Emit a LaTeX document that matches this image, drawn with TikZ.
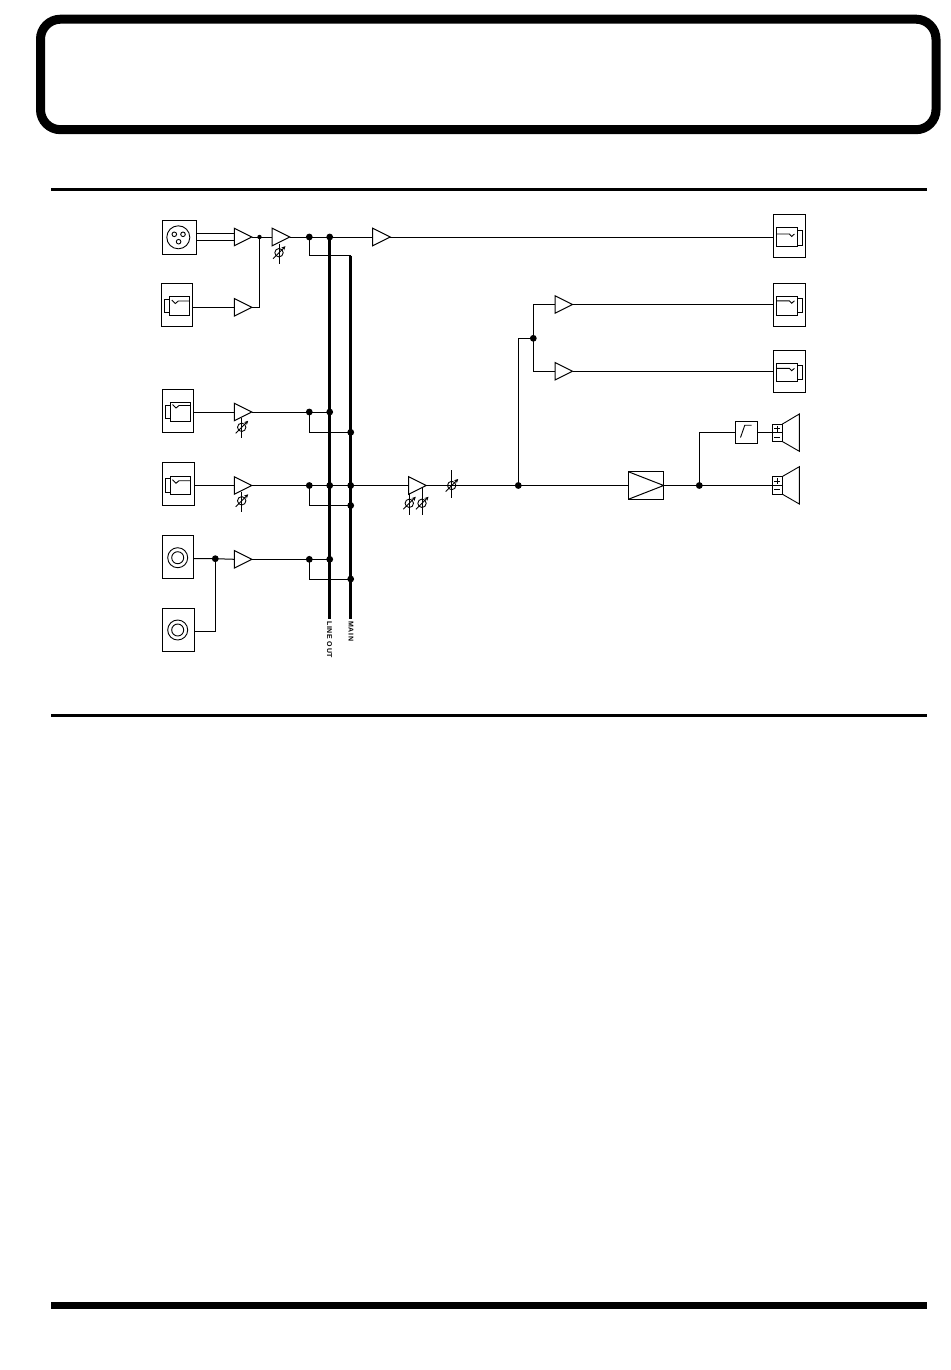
\documentclass[tikz,border=0pt]{standalone}
\usepackage{fontspec}
\setmainfont{Liberation Sans}
\usetikzlibrary{shapes.geometric,arrows.meta}
\tikzset{
  x=1pt,y=-1pt,
  wire/.style={line width=1pt,black},
  thin part/.style={line width=0.9pt,black},
  bus/.style={line width=2.5pt,black},
  rule/.style={line width=3pt,black},
  unit/.style={draw,line width=1pt,rectangle,inner sep=0pt,outer sep=0pt},
  ampl/.style={draw,line width=1pt,isosceles triangle,isosceles triangle stretches,
    minimum height=17.5pt,minimum width=17.5pt,inner sep=0pt,outer sep=0pt,anchor=west},
  dot/.style={circle,fill=black,inner sep=0pt,minimum size=6.8pt},
  smalldot/.style={circle,fill=black,inner sep=0pt,minimum size=4.4pt},
  buslabel/.style={font=\bfseries\fontsize{7}{8}\selectfont\addfontfeature{LetterSpace=10},rotate=-90,anchor=west,inner sep=0pt},
}
% box from its corners: name, x1, y1, x2, y2
\newcommand{\unitbox}[5]{%
  \pgfmathsetmacro{\ubw}{#4-#2}\pgfmathsetmacro{\ubh}{#5-#3}%
  \pgfmathsetmacro{\ubx}{(#4+#2)/2}\pgfmathsetmacro{\uby}{(#5+#3)/2}%
  \node[unit,minimum width=\ubw pt,minimum height=\ubh pt] (#1) at (\ubx,\uby) {};}
% jack with sleeve to the left: body x1, y1, x2, y2, sleeve x, sleeve y1, y2, contact y
\newcommand{\jackleft}[8]{%
  \draw[thin part] (#1,#2) rectangle (#3,#4);
  \draw[thin part] (#1,#6) -- (#5,#6) -- (#5,#7) -- (#1,#7);
  \draw[thin part] (#1+2.5,#8-2) -- (#1+6,#8+1.5) -- (#1+9,#8-1) -- (#3,#8-1);}
% jack with sleeve to the right
\newcommand{\jackright}[8]{%
  \draw[thin part] (#1,#2) rectangle (#3,#4);
  \draw[thin part] (#3,#6) -- (#5,#6) -- (#5,#7) -- (#3,#7);
  \draw[thin part] (#1,#8) -- (#3-8.3,#8) -- (#3-6,#8+2.5) -- (#3-3.3,#8);}
% level control: centre x, y, stem top, stem bottom
\newcommand{\potmark}[4]{%
  \draw[thin part] (#1,#3) -- (#1,#4);
  \draw[thin part] (#1,#2) circle (4.2);
  \draw[thin part,-{Stealth[length=4pt,width=4pt]}] (#1-6,#2+6) -- (#1+6.5,#2-6.5);}
% speaker: x1, y1, x2, y2, cone x, cone y1, y2
\newcommand{\speakermark}[7]{%
  \draw[thin part] (#1,#2) rectangle (#3,#4);
  \draw[thin part] (#3,#2) -- (#5,#6) -- (#5,#7) -- (#3,#4);
  \pgfmathsetmacro{\spm}{(#2+#4)/2}\pgfmathsetmacro{\spx}{(#1+#3)/2}%
  \draw[line width=0.7pt] (#1,\spm) -- (#3,\spm);
  \draw[line width=0.7pt] (\spx-3,\spm-4.2) -- (\spx+3,\spm-4.2) (\spx,\spm-7.2) -- (\spx,\spm-1.2);
  \draw[line width=0.7pt] (\spx-3,\spm+4.2) -- (\spx+3,\spm+4.2);}
\begin{document}
\begin{tikzpicture}
\useasboundingbox (0,0) rectangle (950,1370);
\fill[white] (0,0) rectangle (950,1370);

% page furniture
\draw[line width=9pt,rounded corners=20pt] (40.5,19.2) rectangle (936,129.7);
\draw[rule] (51,189.3) -- (927,189.3);
\draw[rule] (51,715.5) -- (927,715.5);
\draw[line width=7pt] (51,1305.5) -- (927,1305.5);

% input boxes
\unitbox{xlr}{162.3}{220}{196.7}{254.3}
\unitbox{jackA}{161.3}{283.3}{192.7}{326.3}
\unitbox{jackB}{162.3}{389.3}{193.7}{432.3}
\unitbox{jackC}{162.3}{462.3}{194.7}{505.3}
\unitbox{rcaA}{162.3}{535.3}{193.7}{578.3}
\unitbox{rcaB}{162.3}{608.3}{194.7}{651.3}

% input symbols
\draw[thin part] (178.3,237.3) circle (11.5);
\draw[thin part] (174.3,234.3) circle (2.3) (183,234.3) circle (2.3) (178.6,241.7) circle (2.3);
\jackleft{169.3}{296.7}{189.7}{315}{164.3}{299.3}{312.3}{302}
\jackleft{170}{402.3}{190.7}{421}{165}{405}{418}{406.5}
\jackleft{170}{476}{190.7}{494}{165}{478.3}{492}{481.7}
\draw[thin part] (177.7,557.7) circle (10) (177.7,557.7) circle (6);
\draw[thin part] (177.7,630) circle (10) (177.7,630) circle (6);

% amplifiers
\node[ampl] (ampA) at (234.3,237) {};
\node[ampl] (ampB) at (234.3,307.3) {};
\node[ampl] (ampC) at (272.2,237) {};
\node[ampl] (ampD) at (372.7,237) {};
\node[ampl] (ampE) at (234.3,412) {};
\node[ampl] (ampF) at (234.3,485.5) {};
\node[ampl] (ampG) at (234.3,559.3) {};
\node[ampl] (ampH) at (408.7,485.5) {};
\node[ampl] (ampI) at (555,304.5) {};
\node[ampl] (ampJ) at (555,371.3) {};

% junctions
\node[smalldot] (jA) at (259.5,237) {};
\node[dot] (lA) at (309.3,237) {};
\node[dot] (lineA) at (329.7,237) {};
\node[dot] (lB) at (309.3,412) {};
\node[dot] (lineB) at (329.7,412) {};
\node[dot] (mainB) at (350.7,432.3) {};
\node[dot] (lC) at (309.3,485.5) {};
\node[dot] (lineC) at (329.7,485.5) {};
\node[dot] (mainM) at (350.7,485.5) {};
\node[dot] (mainC) at (350.7,505.5) {};
\node[dot] (lD) at (309.3,559.3) {};
\node[dot] (lineD) at (329.7,559.3) {};
\node[dot] (mainD) at (350.7,579) {};
\node[dot] (jR) at (215.3,558.7) {};
\node[dot] (jM) at (518.3,485.5) {};
\node[dot] (jH) at (533.3,338.3) {};
\node[dot] (jP) at (699.3,485.5) {};

% buses
\coordinate (lineEnd) at (329.7,618.5);
\coordinate (mainTop) at (350.7,255.7);
\coordinate (mainEnd) at (350.7,618.5);
\draw[bus] (lineA.center) -- (lineEnd);
\draw[bus] (mainTop) -- (mainEnd);
\node[buslabel] (lblLine) at (329.5,621) {LINE OUT};
\node[buslabel] (lblMain) at (351,621) {MAIN};

% output boxes
\unitbox{outA}{773.3}{214}{805.7}{257.3}
\unitbox{outB}{773.3}{283.3}{805.7}{326.7}
\unitbox{outC}{773.3}{350}{805.7}{392.3}
\jackright{776.7}{227.7}{797.7}{246.7}{802.7}{230}{245}{234}
\jackright{776.7}{296.7}{797.7}{315}{802.7}{298.3}{312.7}{300.8}
\jackright{776.7}{363.3}{797.7}{381.7}{802.7}{365}{379.3}{368.3}

% power amp, filter
\unitbox{power}{628.3}{471.7}{663.7}{499.3}
\draw[wire] (power.north west) -- (power.east) -- (power.south west);
\unitbox{filter}{735.3}{421}{757.7}{443.3}
\draw[thin part] (740.5,437.5) -- (744.8,425.2) -- (751.5,425.2);

% speakers
\speakermark{772.3}{424.3}{782}{441.3}{799.3}{414}{451.3}
\speakermark{772.3}{476.7}{782}{494}{799.3}{466.7}{504}
\coordinate (spkA) at (772.3,432.15);
\coordinate (spkB) at (772.3,485.5);

% level controls
\potmark{279}{252.7}{243.5}{263.5}
\potmark{241.7}{427.3}{418}{438}
\potmark{241.7}{500.8}{491.5}{512}
\potmark{409.3}{503.3}{494}{515}
\potmark{422}{503.3}{487}{515}
\potmark{451.7}{485.5}{470}{497.5}

% connectors
\draw[wire] ([yshift=-3.3pt]xlr.east |- ampA.west) -- ([yshift=-3.3pt]ampA.west);
\draw[wire] ([yshift=3.3pt]xlr.east |- ampA.west) -- ([yshift=3.3pt]ampA.west);
\draw[wire] (jackA.east |- ampB.west) -- (ampB.west);
\draw[wire] (ampB.apex) -| (jA.center);
\draw[wire] (ampA.apex) -- (ampC.west);
\draw[wire] (ampC.apex) -- (ampD.west);
\draw[wire] (ampD.apex) -- (ampD.apex -| outA.west);
\draw[wire] (lA.center) |- (mainTop);
\draw[wire] (jackB.east |- ampE.west) -- (ampE.west);
\draw[wire] (ampE.apex) -- (lineB.center);
\draw[wire] (lB.center) |- (mainB.center);
\draw[wire] (jackC.east |- ampF.west) -- (ampF.west);
\draw[wire] (ampF.apex) -- (ampH.west);
\draw[wire] (lC.center) |- (mainC.center);
\draw[wire] (rcaA.east |- jR.center) -- (jR.center) -- (ampG.west);
\draw[wire] (ampG.apex) -- (lineD.center);
\draw[wire] (lD.center) |- (mainD.center);
\draw[wire] (rcaB.east |- 0,631.3) -| (jR.center);
\draw[wire] (ampH.apex) -- (power.west |- ampH.apex);
\draw[wire] (jM.center) |- (jH.center);
\draw[wire] (ampI.west) -| (jH.center);
\draw[wire] (ampJ.west) -| (jH.center);
\draw[wire] (ampI.apex) -- (ampI.apex -| outB.west);
\draw[wire] (ampJ.apex) -- (ampJ.apex -| outC.west);
\draw[wire] (power.east) -- (spkB);
\draw[wire] (jP.center) |- (filter.west);
\draw[wire] (filter.east) -- (spkA);
\end{tikzpicture}
\end{document}
